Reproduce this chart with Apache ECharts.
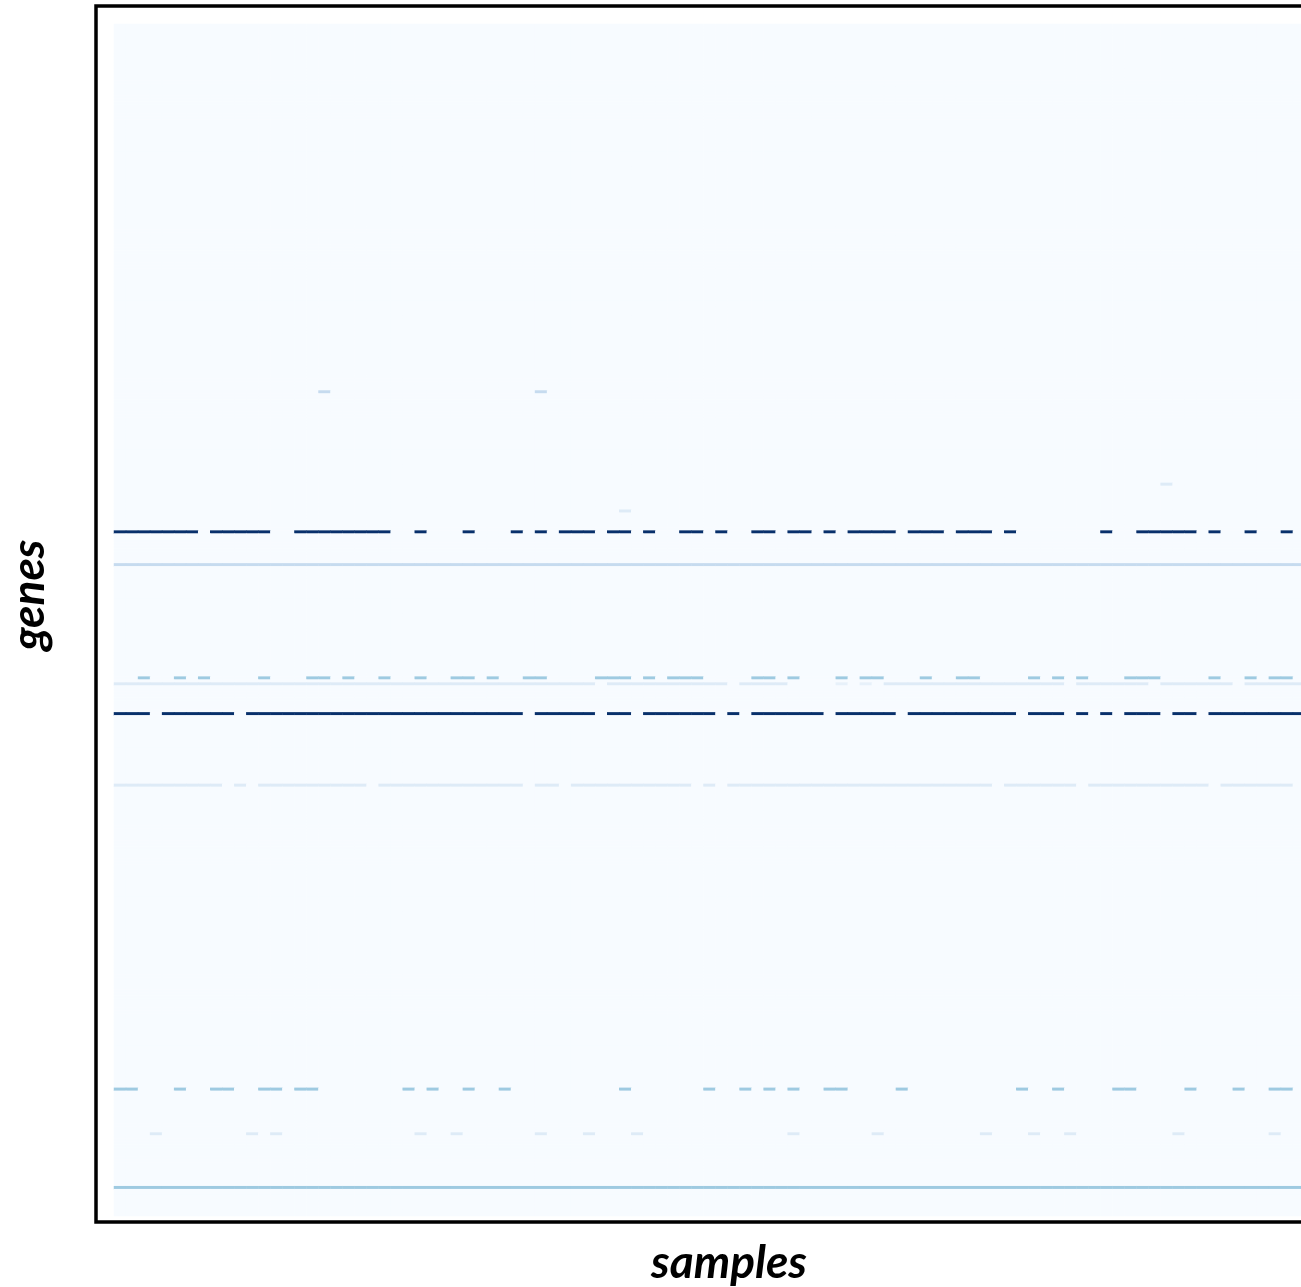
<!DOCTYPE html>
<html>
<head>
<meta charset="utf-8">
<script src="https://cdn.jsdelivr.net/npm/echarts@6/dist/echarts.min.js"></script>
<style>
html,body{margin:0;padding:0;background:#ffffff;overflow:hidden;}
#chart{width:1420px;height:1287px;}
</style>
</head>
<body>
<div id="chart"></div>
<script>
// ---- data ----
const nSamples = 100;
const nGenes = 400;
const sampleNames = Array.from({length: nSamples}, (_, i) => 'S' + (i + 1));
const geneNames = Array.from({length: nGenes}, (_, i) => 'G' + (i + 1));

// genes (row index from top) that are not at the background level
const expressedGenes = [123, 154, 163, 170, 181, 219, 221, 231, 255, 357, 372, 390];
const expressionLevels = [0.25, 0.125, 0.125, 1, 0.25, 0.375, 0.125, 1, 0.125, 0.375, 0.125, 0.375];
// column runs [from, to] per expressed gene
const expressedRuns = [
  [[17,17],[35,35]],
  [[87,87]],
  [[42,42]],
  [[0,6],[8,12],[15,22],[25,25],[29,29],[33,33],[35,35],[37,39],[41,42],[44,44],[47,48],[50,50],[53,54],[56,57],[59,59],[61,64],[66,68],[70,72],[74,74],[82,82],[85,89],[91,91],[94,94],[97,97]],
  [[0,99]],
  [[2,2],[5,5],[7,7],[12,12],[16,17],[19,19],[22,22],[25,25],[28,29],[31,31],[34,35],[40,42],[44,44],[46,48],[53,54],[56,56],[60,60],[62,63],[67,67],[70,71],[76,76],[78,78],[80,80],[84,86],[91,91],[94,94],[96,97]],
  [[0,39],[41,50],[52,55],[64,78],[80,85],[87,92],[94,99]],
  [[0,2],[4,9],[11,33],[35,39],[41,42],[44,49],[51,51],[53,58],[60,64],[66,74],[76,78],[80,80],[82,82],[84,86],[88,89],[91,99]],
  [[0,8],[10,10],[12,20],[22,33],[35,36],[38,47],[49,49],[51,72],[74,79],[81,90],[92,97]],
  [[0,1],[5,5],[8,9],[12,13],[15,16],[24,24],[26,26],[29,29],[32,32],[42,42],[49,49],[52,52],[54,54],[56,56],[59,60],[65,65],[75,75],[78,78],[83,84],[89,89],[93,93],[96,97]],
  [[3,3],[11,11],[13,13],[25,25],[28,28],[35,35],[39,39],[43,43],[56,56],[63,63],[72,72],[76,76],[79,79],[88,88],[96,96]],
  [[0,99]]
];
// individual faint cells [gene, sample, value]
const faintCells = [[221, 60, 0.08], [221, 62, 0.08]];
const backgroundLevel = 0;

const bluesPalette = ['#f7fbff','#deebf7','#c6dbef','#9ecae1','#6baed6','#4292c6','#2171b5','#08519c','#08306b'];

// ---- build matrix ----
const matrix = [];
for (let g = 0; g < nGenes; g++) {
  matrix.push(new Array(nSamples).fill(backgroundLevel));
}
expressedGenes.forEach((g, k) => {
  expressedRuns[k].forEach(([a, b]) => {
    for (let s = a; s <= b; s++) matrix[g][s] = expressionLevels[k];
  });
});
faintCells.forEach(([g, s, v]) => { matrix[g][s] = v; });

const heatData = [];
for (let g = 0; g < nGenes; g++) {
  for (let s = 0; s < nSamples; s++) {
    heatData.push([s, g, matrix[g][s]]);
  }
}

const chart = echarts.init(document.getElementById('chart'), null, {renderer: 'canvas'});
chart.setOption({
  animation: false,
  backgroundColor: '#ffffff',
  grid: {left: 114, top: 24, width: 1203, height: 1192, containLabel: false, outerBoundsMode: 'none'},
  xAxis: {
    type: 'category', data: sampleNames,
    axisLine: {show: false}, axisTick: {show: false}, axisLabel: {show: false}, splitLine: {show: false}
  },
  yAxis: {
    type: 'category', data: geneNames, inverse: true,
    axisLine: {show: false}, axisTick: {show: false}, axisLabel: {show: false}, splitLine: {show: false}
  },
  visualMap: {
    show: false, type: 'continuous', min: 0, max: 1, dimension: 2,
    inRange: {color: bluesPalette}
  },
  series: [{
    type: 'heatmap',
    data: heatData,
    progressive: 0,
    itemStyle: {borderWidth: 0},
    emphasis: {disabled: true}
  }],
  graphic: [
    {
      type: 'rect', silent: true, z: 100,
      shape: {x: 96, y: 6, width: 1240, height: 1216},
      style: {fill: 'none', stroke: '#000000', lineWidth: 3.5}
    },
    {
      type: 'text', z: 100, x: 729, y: 1263,
      style: {text: 'samples', font: 'italic bold 46px Lato', fill: '#000000', textAlign: 'center', textVerticalAlign: 'middle'}
    },
    {
      type: 'text', z: 100, x: 29, y: 595, rotation: Math.PI / 2,
      style: {text: 'genes', font: 'italic bold 46px Lato', fill: '#000000', textAlign: 'center', textVerticalAlign: 'middle'}
    }
  ]
});
</script>
</body>
</html>
